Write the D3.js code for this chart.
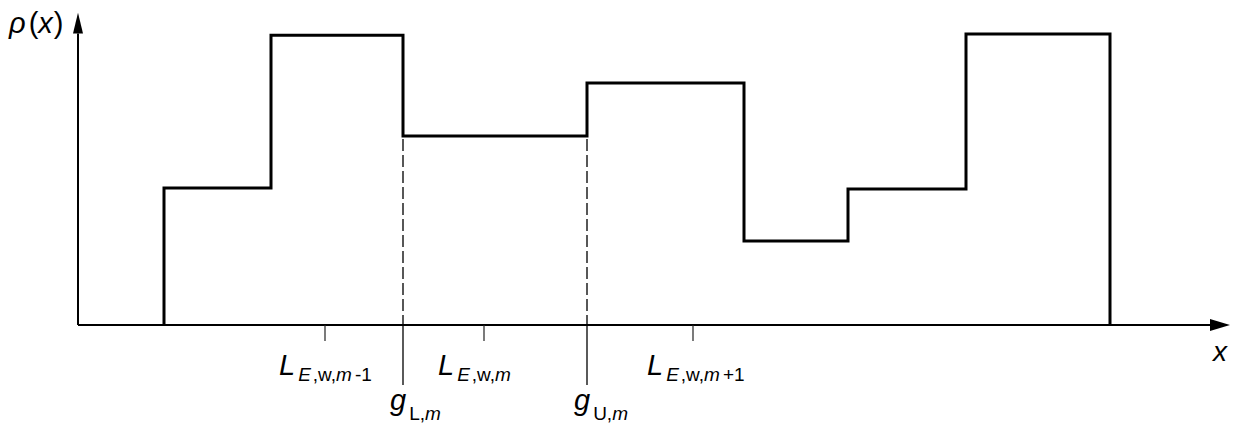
<!DOCTYPE html>
<html>
<head>
<meta charset="utf-8">
<script src="https://cdn.jsdelivr.net/npm/d3@7"></script>
<style>
  body { margin: 0; background: #fff; }
  text { font-family: "Liberation Sans", Arial, sans-serif; fill: #000; }
</style>
</head>
<body>
<div id="chart"></div>
<script>
// step edges along x (abstract units) and density level of each step
const edges = [0.86, 1.93, 3.25, 5.09, 6.66, 7.70, 8.88, 10.32];
const levels = [0.442, 0.935, 0.61, 0.781, 0.271, 0.439, 0.939];

// tick positions for bin centres and bin boundaries
const centreTicks = [2.47, 4.06, 6.15];
const centreLabels = [["m", "-1"], ["m", ""], ["m", "+1"]];
const boundTicks = [3.25, 5.09];
const boundLabels = ["L", "U"];

const W = 1234, H = 425;
const svg = d3.select("#chart").append("svg")
  .attr("width", W).attr("height", H);

const x = d3.scaleLinear().domain([0, 11.5]).range([78, 1228]);
const y = d3.scaleLinear().domain([0, 1]).range([325, 15]);

// dashed guides from the step down to the axis at the bin boundaries
svg.selectAll(".guide")
  .data(boundTicks)
  .join("line")
  .attr("x1", d => x(d)).attr("x2", d => x(d))
  .attr("y1", y(levels[2]) + 3).attr("y2", y(0))
  .attr("stroke", "#111").attr("stroke-width", 1.4)
  .attr("stroke-dasharray", "12,4");

// axes
svg.append("line")
  .attr("x1", x(0)).attr("x2", x(11.34))
  .attr("y1", y(0)).attr("y2", y(0))
  .attr("stroke", "#000").attr("stroke-width", 2);
svg.append("path")
  .attr("d", `M${x(11.52)},${y(0)}L${x(11.32)},${y(0) - 6}L${x(11.32)},${y(0) + 6}Z`)
  .attr("fill", "#000");

svg.append("line")
  .attr("x1", x(0)).attr("x2", x(0))
  .attr("y1", y(0)).attr("y2", y(0.94))
  .attr("stroke", "#000").attr("stroke-width", 2);
svg.append("path")
  .attr("d", `M${x(0)},${y(1.007)}L${x(0) - 5},${y(0.94)}L${x(0) + 5},${y(0.94)}Z`)
  .attr("fill", "#000");

// step function
const pts = [[edges[0], 0]];
levels.forEach((l, i) => pts.push([edges[i], l]));
pts.push([edges[edges.length - 1], 0]);

const line = d3.line()
  .x(d => x(d[0]))
  .y(d => y(d[1]))
  .curve(d3.curveStepAfter);

svg.append("path")
  .datum(pts)
  .attr("d", line)
  .attr("fill", "none")
  .attr("stroke", "#000")
  .attr("stroke-width", 3)
  .attr("stroke-linejoin", "miter");

// short ticks at bin centres
svg.selectAll(".ctick")
  .data(centreTicks)
  .join("line")
  .attr("x1", d => x(d)).attr("x2", d => x(d))
  .attr("y1", y(0)).attr("y2", y(0) + 16)
  .attr("stroke", "#222").attr("stroke-width", 1.2);

// long ticks at bin boundaries
svg.selectAll(".btick")
  .data(boundTicks)
  .join("line")
  .attr("x1", d => x(d)).attr("x2", d => x(d))
  .attr("y1", y(0)).attr("y2", y(0) + 60)
  .attr("stroke", "#000").attr("stroke-width", 1.3);

// L_{E,w,m...} labels
centreLabels.forEach((lab, i) => {
  const t = svg.append("text")
    .attr("x", x(centreTicks[i]) - 46)
    .attr("y", 375)
    .attr("font-size", 29);
  t.append("tspan").attr("font-style", "italic").text("L");
  const s = t.append("tspan").attr("font-size", 19).attr("dy", 6).attr("dx", 3);
  s.append("tspan").attr("font-style", "italic").text("E");
  s.append("tspan").attr("dx", 2).text(",w,");
  s.append("tspan").attr("font-style", "italic").text(lab[0]);
  if (lab[1]) s.append("tspan").attr("dx", 3).text(lab[1]);
});

// g_{L,m}, g_{U,m} labels
boundLabels.forEach((lab, i) => {
  const t = svg.append("text")
    .attr("x", x(boundTicks[i]) - 13)
    .attr("y", 410)
    .attr("font-size", 29);
  t.append("tspan").attr("font-style", "italic").text("g");
  const s = t.append("tspan").attr("font-size", 19).attr("dy", 10).attr("dx", 3);
  s.append("tspan").text(lab + ",");
  s.append("tspan").attr("font-style", "italic").text("m");
});

// axis titles
const yt = svg.append("text").attr("x", 9).attr("y", 33).attr("font-size", 29);
yt.append("tspan").attr("font-style", "italic").text("ρ");
yt.append("tspan").attr("dx", 3).text("(");
yt.append("tspan").attr("font-style", "italic").text("x");
yt.append("tspan").attr("dx", 1).text(")");

svg.append("text")
  .attr("x", 1213).attr("y", 361)
  .attr("font-size", 28).attr("font-style", "italic")
  .text("x");
</script>
</body>
</html>
